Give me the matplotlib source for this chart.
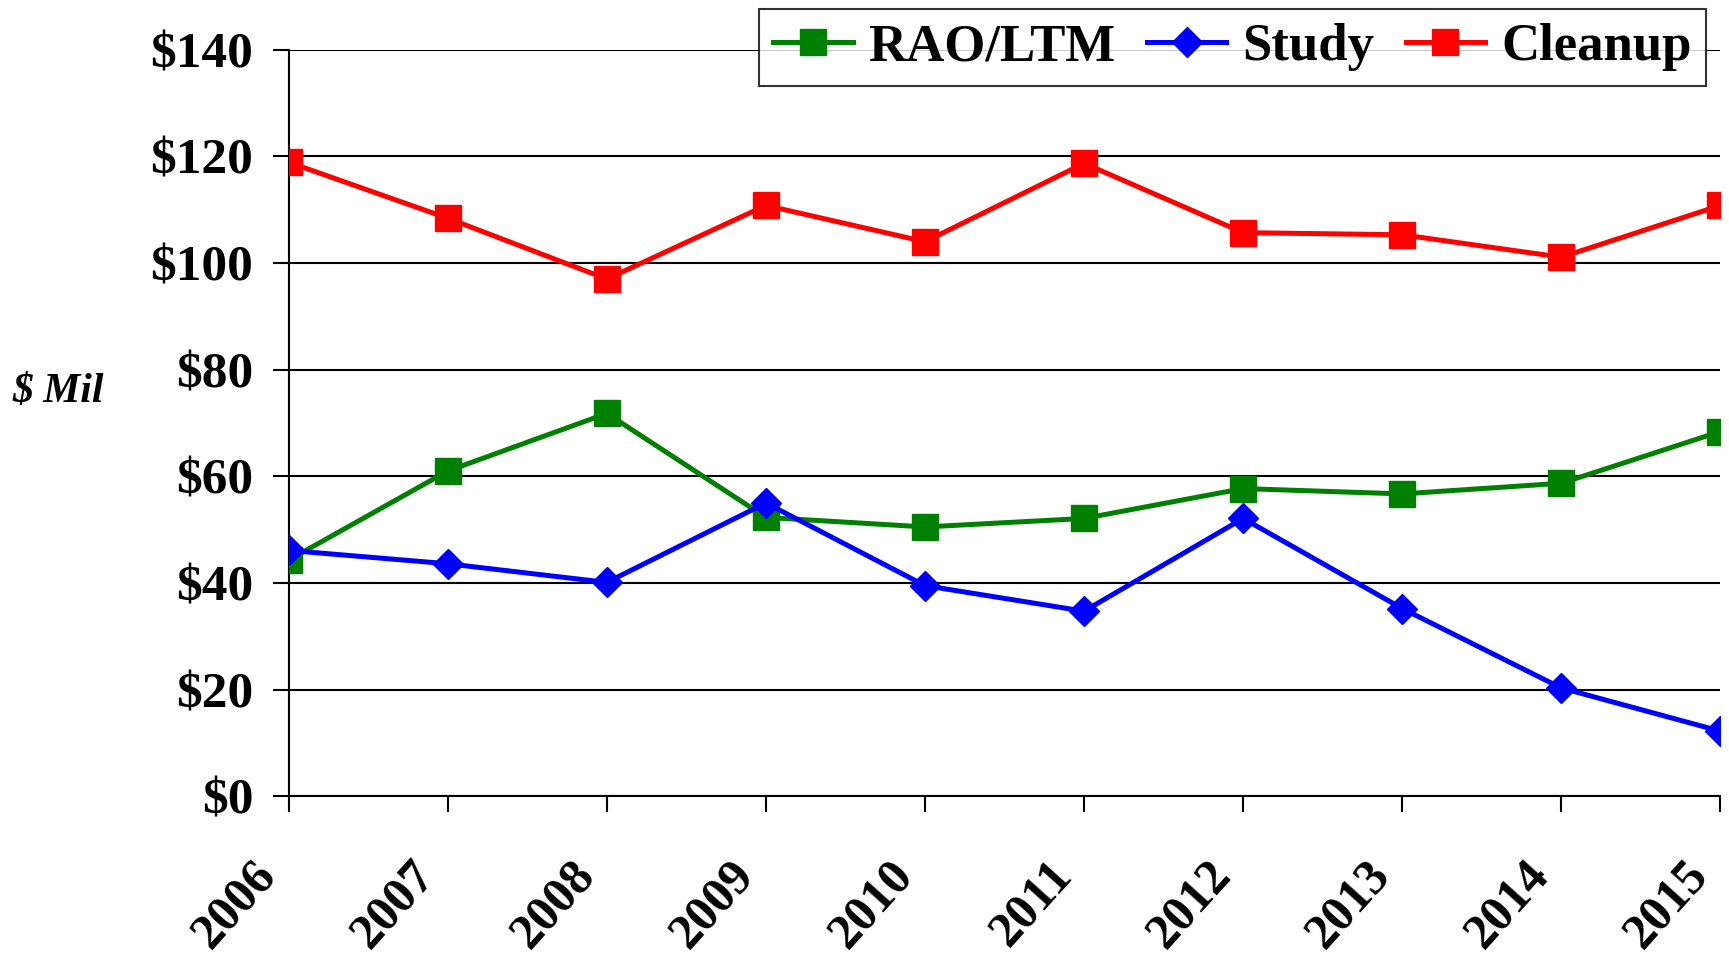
import numpy as np
import matplotlib.pyplot as plt
import matplotlib.transforms as mtransforms

years = [2006, 2007, 2008, 2009, 2010, 2011, 2012, 2013, 2014, 2015]
rao_ltm = [44.3, 61.0, 71.8, 52.3, 50.5, 52.1, 57.7, 56.7, 58.7, 68.4]
study = [46.1, 43.6, 40.1, 55.0, 39.5, 34.7, 52.1, 35.2, 20.3, 12.2]
cleanup = [118.9, 108.4, 97.0, 110.8, 104.0, 118.7, 105.7, 105.3, 101.1, 110.8]
y_ticks = [0, 20, 40, 60, 80, 100, 120, 140]

plt.rcParams['font.family'] = ['Liberation Serif', 'DejaVu Serif']
plt.rcParams['font.weight'] = 'bold'

fig = plt.figure(figsize=(17.29, 9.57), dpi=100)
ax = fig.add_axes([0.167, 0.168, 0.828, 0.78])

ax.plot(years, rao_ltm, color="#008000", lw=3.6, marker="s", ms=19, label="RAO/LTM", zorder=3)
ax.plot(years, study, color="#0000ff", lw=3.6, marker="D", ms=15, label="Study", zorder=4)
ax.plot(years, cleanup, color="#ff0000", lw=3.6, marker="s", ms=19, label="Cleanup", zorder=3)

ax.set_xlim(2006, 2015)
ax.set_ylim(0, 140)
ax.set_yticks(y_ticks)
ax.set_yticklabels([f"${v}" for v in y_ticks], fontsize=37, fontweight="bold")
ax.set_xticks(years)
ax.set_xticklabels([str(y) for y in years], fontsize=36, fontweight="bold",
                   rotation=48, ha="right", va="center", rotation_mode="anchor")
ax.tick_params(axis="y", length=11.5, width=1.5, pad=14)
ax.tick_params(axis="x", length=11.5, width=1.5, pad=40)

# shift the slanted year labels a bit left of their ticks
shift = mtransforms.ScaledTranslation(-0.2, 0, fig.dpi_scale_trans)
for lbl in ax.get_xticklabels():
    lbl.set_transform(lbl.get_transform() + shift)

ax.grid(axis="y", color="black", lw=1.5)
ax.set_axisbelow(True)
for s in ["top", "right"]:
    ax.spines[s].set_visible(False)
ax.spines["left"].set_linewidth(1.5)
ax.spines["bottom"].set_linewidth(1.5)

fig.text(0.007, 0.58, "$ Mil", fontsize=30, fontweight="bold", style="italic")

leg = ax.legend(loc="upper right", ncol=3, fontsize=38, frameon=True, fancybox=False,
                edgecolor="black", bbox_to_anchor=(0.99, 1.055), borderaxespad=0,
                handlelength=1.5, handletextpad=0.3, columnspacing=0.6, borderpad=0.28)
leg.get_frame().set_linewidth(1.5)
leg.set_zorder(5)

fig.savefig("out.png", dpi=100)
